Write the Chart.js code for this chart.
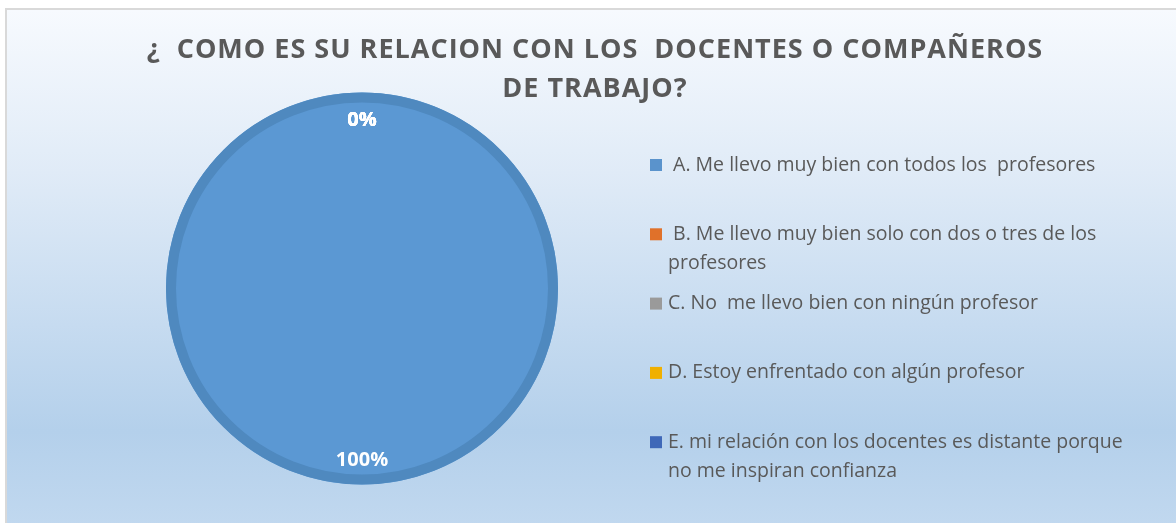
<!DOCTYPE html>
<html>
<head>
<meta charset="utf-8">
<script src="https://cdn.jsdelivr.net/npm/chart.js@4"></script>
<style>
  html, body { margin: 0; padding: 0; background: #fff; overflow: hidden; }
  .frame {
    position: absolute; left: 5px; top: 8px; width: 1200px; height: 540px;
    border-left: 2px solid #d9d9d9; border-top: 2px solid #d9d9d9;
    background: linear-gradient(to bottom, #f7fafe 0%, #e0ebf7 30%, #b4d0eb 78%, #c4daf0 100%);
  }
  #wrap { position: absolute; left: 0; top: 0; width: 1176px; height: 523px; }
</style>
</head>
<body>
<div class="frame"></div>
<div id="wrap"><canvas id="pieChart"></canvas></div>
<script>
// ── Data ─────────────────────────────────────────────────
const titleLines = ['¿  COMO ES SU RELACION CON LOS  DOCENTES O COMPAÑEROS', 'DE TRABAJO?'];
const labels = [
  [' A. Me llevo muy bien con todos los  profesores'],
  [' B. Me llevo muy bien solo con dos o tres de los', 'profesores'],
  ['C. No  me llevo bien con ningún profesor'],
  ['D. Estoy enfrentado con algún profesor'],
  ['E. mi relación con los docentes es distante porque', 'no me inspiran confianza']
];
const values = [100, 0, 0, 0, 0];
const colors = ['#5b98d3', '#ed7d31', '#a5a5a5', '#ffc000', '#4472c4'];
const legendColors = ['#5a93cc', '#e0712a', '#9a9a9a', '#f0b000', '#3f68b8'];

// ── Title + legend drawn on canvas ───────────────────────
const decor = {
  id: 'decor',
  afterDraw(chart) {
    const ctx = chart.ctx;
    ctx.save();
    ctx.fillStyle = '#595959';
    ctx.textAlign = 'center';
    ctx.textBaseline = 'middle';
    ctx.font = "bold 27px 'Open Sans'";
    ctx.letterSpacing = '1px';
    titleLines.forEach((t, i) => ctx.fillText(t, 595, 50 + i * 39));
    ctx.letterSpacing = '0px';

    // legend
    ctx.textAlign = 'left';
    ctx.font = "19.5px 'Open Sans'";
    chart.data.labels.forEach((lines, i) => {
      const y = 165 + i * 69.3;
      ctx.fillStyle = legendColors[i];
      ctx.fillRect(650, y - 6, 12, 12);
      ctx.fillStyle = '#595959';
      lines.forEach((ln, j) => ctx.fillText(ln, 668, y + j * 29.5));
    });
    ctx.restore();
  }
};

// ring + data labels from the arc elements
const pieLabels = {
  id: 'pieLabels',
  afterDatasetsDraw(chart) {
    const ctx = chart.ctx;
    const meta = chart.getDatasetMeta(0);
    const first = meta.data[0];
    ctx.save();
    ctx.strokeStyle = '#4f89bf';
    ctx.lineWidth = 10;
    ctx.beginPath();
    ctx.arc(first.x, first.y, first.outerRadius - 5, 0, Math.PI * 2);
    ctx.stroke();

    ctx.fillStyle = '#ffffff';
    ctx.font = "bold 20px 'Open Sans'";
    ctx.textAlign = 'center';
    ctx.textBaseline = 'middle';
    const total = values.reduce((a, b) => a + b, 0);
    meta.data.forEach((arc, i) => {
      const mid = (arc.startAngle + arc.endAngle) / 2;
      const r = arc.outerRadius - 26;
      const pct = Math.round(values[i] / total * 100) + '%';
      ctx.fillText(pct, arc.x + Math.cos(mid) * r, arc.y + Math.sin(mid) * r + 1.5);
    });
    ctx.restore();
  }
};

new Chart(document.getElementById('pieChart'), {
  type: 'pie',
  data: {
    labels: labels,
    datasets: [{
      data: values,
      backgroundColor: colors,
      borderWidth: 0
    }]
  },
  options: {
    responsive: true,
    maintainAspectRatio: false,
    animation: false,
    layout: { padding: { left: 166, right: 618, top: 92, bottom: 38 } },
    plugins: {
      legend: { display: false },
      title: { display: false },
      tooltip: { enabled: false }
    }
  },
  plugins: [decor, pieLabels]
});
</script>
</body>
</html>
